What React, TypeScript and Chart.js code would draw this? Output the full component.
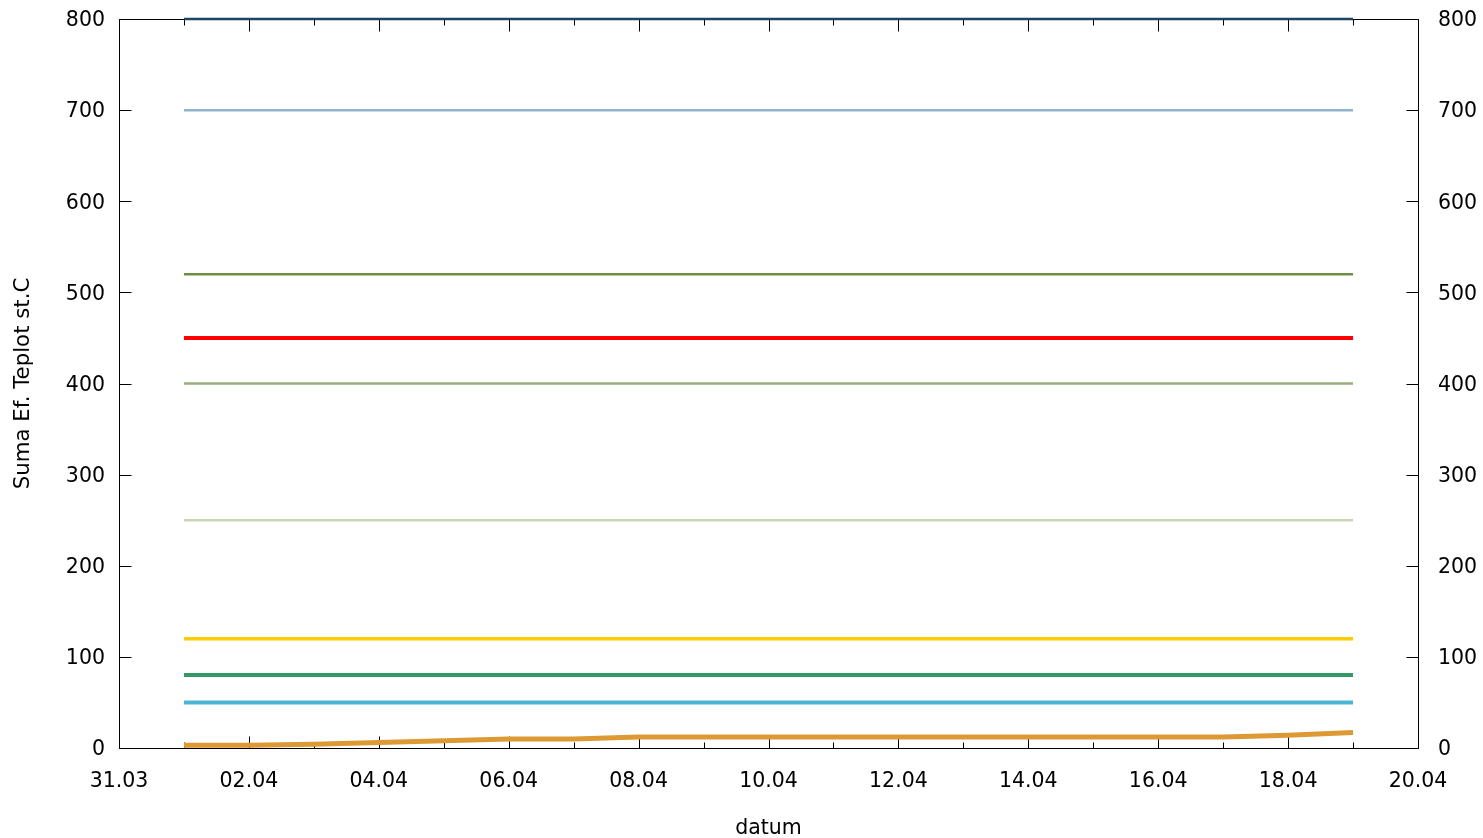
import React, { useEffect, useRef } from "react";
import { Chart, registerables } from "chart.js";

Chart.register(...registerables);

// ---- data ----
const dates = [
  "01.04", "02.04", "03.04", "04.04", "05.04", "06.04", "07.04", "08.04", "09.04", "10.04",
  "11.04", "12.04", "13.04", "14.04", "15.04", "16.04", "17.04", "18.04", "19.04",
];
const sumaValues = [3, 3, 4, 6, 8, 10, 10, 12, 12, 12, 12, 12, 12, 12, 12, 12, 12, 14, 17];

const thresholdValues = [800, 700, 520, 450, 400, 250, 120, 80, 50];
const thresholdColors = [
  "#1e4566", "#8fb4cc", "#6f8f43", "#ff0000", "#9bad7c", "#c9d3b6", "#ffcc00", "#339966", "#4ab6d6",
];
const thresholdWidths = [2.5, 2.5, 2.5, 4, 2.5, 2.5, 3.5, 4, 4];

const xTickLabels = [
  "31.03", "02.04", "04.04", "06.04", "08.04", "10.04", "12.04", "14.04", "16.04", "18.04", "20.04",
];
const yTickValues = [0, 100, 200, 300, 400, 500, 600, 700, 800];

const X_MIN = 0;
const X_MAX = 20;

// convert "DD.MM" into day offset from 31.03
function dayIndex(d: string): number {
  const [dd, mm] = d.split(".").map(Number);
  return mm === 3 ? dd - 31 : dd;
}

const frame = {
  id: "gnuplotFrame",
  beforeDatasetsDraw(chart: any) {
    const { ctx, chartArea: a } = chart;
    const xs = chart.scales.x;
    const ys = chart.scales.y;
    ctx.save();
    ctx.strokeStyle = "#000";
    ctx.lineWidth = 1;
    const L = Math.round(a.left) + 0.5;
    const R = Math.round(a.right) + 0.5;
    const T = Math.round(a.top) + 0.5;
    const B = Math.round(a.bottom) + 0.5;
    ctx.beginPath();
    ctx.rect(L, T, R - L, B - T);
    ctx.stroke();
    ctx.beginPath();
    for (let v = X_MIN; v <= X_MAX; v++) {
      const len = v % 2 === 0 ? 12 : 6;
      const px = Math.round(xs.getPixelForValue(v)) + 0.5;
      ctx.moveTo(px, B);
      ctx.lineTo(px, B - len);
      ctx.moveTo(px, T);
      ctx.lineTo(px, T + len);
    }
    for (const v of yTickValues) {
      const py = Math.round(ys.getPixelForValue(v)) + 0.5;
      ctx.moveTo(L, py);
      ctx.lineTo(L + 12, py);
      ctx.moveTo(R, py);
      ctx.lineTo(R - 12, py);
    }
    ctx.stroke();
    ctx.restore();
  },
};

export default function App() {
  const ref = useRef<HTMLCanvasElement | null>(null);

  useEffect(() => {
    if (!ref.current) return;
    Chart.defaults.font.family = "'DejaVu Sans', Verdana, sans-serif";
    Chart.defaults.font.size = 20;
    Chart.defaults.color = "#000";

    const firstX = dayIndex(dates[0]);
    const lastX = dayIndex(dates[dates.length - 1]);

    const thresholdSets = thresholdValues.map((v, i) => ({
      label: "limit " + v,
      data: [
        { x: firstX, y: v },
        { x: lastX, y: v },
      ],
      borderColor: thresholdColors[i],
      borderWidth: thresholdWidths[i],
      pointRadius: 0,
      fill: false,
      tension: 0,
      clip: false,
      borderCapStyle: "butt" as const,
    }));

    const sumaSet = {
      label: "Suma Ef. Teplot",
      data: dates.map((d, i) => ({ x: dayIndex(d), y: sumaValues[i] })),
      borderColor: "#dd9933",
      borderWidth: 5,
      pointRadius: 0,
      fill: false,
      tension: 0,
      clip: false,
      borderCapStyle: "butt" as const,
    };

    const zeroPad = (s: any) => {
      s.paddingTop = 0;
      s.paddingBottom = 0;
      s.paddingLeft = 0;
      s.paddingRight = 0;
    };

    const chart = new Chart(ref.current, {
      type: "line",
      data: { datasets: [...thresholdSets, sumaSet] as any },
      plugins: [frame],
      options: {
        animation: false,
        responsive: false,
        maintainAspectRatio: false,
        layout: { padding: { top: 19, left: 0, right: 0, bottom: 0 } },
        plugins: {
          legend: { display: false },
          tooltip: { enabled: false },
        },
        scales: {
          x: {
            type: "linear",
            min: X_MIN,
            max: X_MAX,
            grid: { display: false, drawTicks: false },
            border: { display: false },
            ticks: {
              stepSize: 2,
              padding: 21,
              maxRotation: 0,
              autoSkip: false,
              font: { size: 20.5 },
              callback: (_v: any, idx: number) => xTickLabels[idx],
            },
            title: {
              display: true,
              text: "datum",
              padding: { top: 0, bottom: -3 },
              font: { size: 20.5 },
            },
            afterFit: (s: any) => {
              s.height = 90;
              zeroPad(s);
            },
          },
          y: {
            type: "linear",
            position: "left",
            min: 0,
            max: 800,
            grid: { display: false, drawTicks: false },
            border: { display: false },
            ticks: { stepSize: 100, padding: 14, labelOffset: 2, font: { size: 20.5 } },
            title: {
              display: true,
              text: "Suma Ef. Teplot st.C",
              padding: { top: 11, bottom: 0 },
              font: { size: 21.3 },
            },
            afterFit: (s: any) => {
              s.width = 119;
              zeroPad(s);
            },
          },
          y2: {
            type: "linear",
            position: "right",
            min: 0,
            max: 800,
            grid: { display: false, drawTicks: false },
            border: { display: false },
            ticks: { stepSize: 100, padding: 20, labelOffset: 2, font: { size: 20.5 } },
            afterFit: (s: any) => {
              s.width = 65;
              zeroPad(s);
            },
          },
        },
      } as any,
    });
    return () => chart.destroy();
  }, []);

  return (
    <div style={{ position: "fixed", left: 0, top: 0, width: 1483, height: 838, background: "#fff" }}>
      <canvas ref={ref} width={1483} height={838} style={{ display: "block" }} />
    </div>
  );
}
